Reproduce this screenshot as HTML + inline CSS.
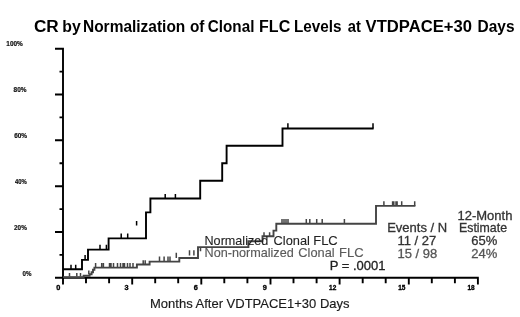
<!DOCTYPE html>
<html><head><meta charset="utf-8">
<style>
html,body{margin:0;padding:0;background:#fff;width:520px;height:317px;overflow:hidden}
svg{display:block;filter:blur(0.35px)}
text{font-family:"Liberation Sans",sans-serif}
</style></head>
<body>
<svg width="520" height="317" viewBox="0 0 520 317">
<rect width="520" height="317" fill="#fff"/>
<g font-size="15.8" font-weight="bold" fill="#000">
<text x="33.9" y="32.3" textLength="24.8" lengthAdjust="spacingAndGlyphs">CR</text>
<text x="62.3" y="32.3" textLength="18.44" lengthAdjust="spacingAndGlyphs">by</text>
<text x="83.0" y="32.3" textLength="102.3" lengthAdjust="spacingAndGlyphs">Normalization</text>
<text x="189.9" y="32.3" textLength="14.5" lengthAdjust="spacingAndGlyphs">of</text>
<text x="207.8" y="32.3" textLength="46.6" lengthAdjust="spacingAndGlyphs">Clonal</text>
<text x="259.1" y="32.3" textLength="31.1" lengthAdjust="spacingAndGlyphs">FLC</text>
<text x="294.0" y="32.3" textLength="47.5" lengthAdjust="spacingAndGlyphs">Levels</text>
<text x="347.8" y="32.3" textLength="13.1" lengthAdjust="spacingAndGlyphs">at</text>
<text x="365.6" y="32.3" textLength="106.3" lengthAdjust="spacingAndGlyphs">VTDPACE+30</text>
<text x="477.6" y="32.3" textLength="36.9" lengthAdjust="spacingAndGlyphs">Days</text>
</g>
<g font-size="7.3" font-weight="bold" fill="#111" stroke="#111" stroke-width="0.2">
<text x="6.3" y="46.4" textLength="16.5" lengthAdjust="spacingAndGlyphs">100%</text>
<text x="13.6" y="92.2" textLength="12.9" lengthAdjust="spacingAndGlyphs">80%</text>
<text x="14.2" y="138.3" textLength="12.9" lengthAdjust="spacingAndGlyphs">60%</text>
<text x="14.9" y="183.9" textLength="11.8" lengthAdjust="spacingAndGlyphs">40%</text>
<text x="14.1" y="230.3" textLength="12.7" lengthAdjust="spacingAndGlyphs">20%</text>
<text x="22.5" y="276.0" textLength="8.9" lengthAdjust="spacingAndGlyphs">0%</text>
</g>
<path d="M63.0 47.8 V284.6 M62 277.8 H478.8 M55 277.8 H63.0 M59.5 254.9 H63.0 M55 232.0 H63.0 M59.5 209.1 H63.0 M55 186.2 H63.0 M59.5 163.2 H63.0 M55 140.3 H63.0 M59.5 117.4 H63.0 M55 94.5 H63.0 M59.5 71.6 H63.0 M55 48.7 H63.0 M86.0 277.8 V283.2 M109.1 277.8 V283.2 M132.2 277.8 V284.6 M155.2 277.8 V283.2 M178.2 277.8 V283.2 M201.3 277.8 V284.6 M224.3 277.8 V283.2 M247.4 277.8 V283.2 M270.5 277.8 V284.6 M293.5 277.8 V283.2 M316.6 277.8 V283.2 M339.6 277.8 V284.6 M362.7 277.8 V283.2 M385.7 277.8 V283.2 M408.8 277.8 V284.6 M431.8 277.8 V283.2 M454.9 277.8 V283.2 M477.9 277.8 V284.6" stroke="#000" stroke-width="1.9" fill="none"/>
<g font-size="7.3" font-weight="bold" fill="#000" stroke="#000" stroke-width="0.35" text-anchor="end">
<text x="60.4" y="290.1">0</text>
<text x="128.6" y="290.1">3</text>
<text x="197.7" y="290.1">6</text>
<text x="266.9" y="290.1">9</text>
<text x="336.3" y="290.1" textLength="7.2" lengthAdjust="spacingAndGlyphs">12</text>
<text x="405.4" y="290.1" textLength="7.2" lengthAdjust="spacingAndGlyphs">15</text>
<text x="474.6" y="290.1" textLength="7.2" lengthAdjust="spacingAndGlyphs">18</text>
</g>
<text x="150" y="308.2" font-size="13" fill="#1a1a1a" stroke="#1a1a1a" stroke-width="0.15">Months After VDTPACE1+30 Days</text>
<path d="M63 277.1 H83.6 V275.8 H89.6 V274.3 H91.6 V272.2 H93 V269.8 H94.4 V267.6 H136.9 V264.5 H149.6 V261.6 H179.3 V258 H198 V247.1 H248.4 V241.3 H262.5 V236.2 H273.5 V230.6 H276.3 V223.8 H376 V205.9 H415.4" stroke="#444" stroke-width="1.9" fill="none"/>
<path d="M69.5 276.5 V273 M76.8 276.5 V273 M80.5 276.5 V273 M88.8 274.3 V270.5 M95.6 267.6 V263.1 M101.7 267.6 V262.9 M103.4 267.6 V262.9 M109.5 267.6 V262.9 M111 267.6 V262.9 M113.5 267.6 V262.9 M117.5 267.6 V262.9 M120.5 267.6 V262.9 M123 267.6 V262.9 M124.5 267.6 V262.9 M127.5 267.6 V262.9 M130 267.6 V262.9 M133 267.6 V262.9 M143.2 264.5 V260.3 M145.2 264.5 V260.3 M159.5 261.6 V256.5 M164.1 261.6 V256.5 M168 261.6 V256.5 M170 261.6 V256.5 M176.3 258 V252.8 M189.5 255.6 V250.2 M193.9 255.6 V250.2 M200.5 251.2 V247 M264 236.2 V232.2 M269.6 236.2 V232.2 M282 223.8 V219 M284 223.8 V219 M286 223.8 V219 M288 223.8 V219 M306.3 223.8 V219 M309.8 223.8 V219 M316.7 223.8 V219 M322.2 223.8 V219 M344.4 223.8 V219 M383.9 205.9 V201.3 M392.6 205.9 V201.3 M393.8 205.9 V201.3 M396 205.9 V201.3 M397.1 205.9 V201.3 M401.7 205.9 V201.3 M414.7 205.9 V201.3" stroke="#444" stroke-width="1.5" fill="none"/>
<path d="M63 269.3 H82 V259.9 H88 V249.6 H108.6 V238.4 H146 V212.4 H150.4 V198.5 H200.2 V180.8 H222.2 V163.3 H226.6 V145.8 H282.5 V128.5 H373.6" stroke="#000" stroke-width="1.9" fill="none"/>
<path d="M71 269.3 V264.8 M75.7 269.3 V264.8 M85.1 259.9 V255 M100 249.6 V244.7 M106.4 249.6 V244.7 M121.2 238.4 V233.5 M127.7 238.4 V233.5 M136.6 225.6 V220.9 M165.2 198.5 V194.1 M175.4 198.5 V194.1 M287.9 128.5 V123.3 M373 128.5 V123.3" stroke="#000" stroke-width="1.5" fill="none"/>
<g font-size="13" stroke-width="0.3">
<g fill="#222" stroke="#222" stroke-width="0.1"><text x="204.5" y="245.2" textLength="63.8" lengthAdjust="spacingAndGlyphs">Normalized</text><text x="273.6" y="245.2" textLength="36.3" lengthAdjust="spacingAndGlyphs">Clonal</text><text x="313.2" y="245.2">FLC</text></g>
<g fill="#5a5a5a" stroke="#5a5a5a" stroke-width="0.15"><text x="204.5" y="256.6" textLength="89.2" lengthAdjust="spacingAndGlyphs">Non-normalized</text><text x="298.3" y="256.6" textLength="36.3" lengthAdjust="spacingAndGlyphs">Clonal</text><text x="339" y="256.6">FLC</text></g>
<text x="329.7" y="269.9" fill="#222" stroke="#222">P = .0001</text>
<text x="457.5" y="219.6" fill="#333" stroke="#333">12-Month</text>
<text x="387.2" y="232.1" fill="#333" stroke="#333">Events / N</text>
<text x="459" y="232.1" fill="#333" stroke="#333" textLength="48" lengthAdjust="spacingAndGlyphs">Estimate</text>
<text x="397.5" y="245.2" fill="#333" stroke="#333">11 / 27</text>
<text x="471.3" y="245.2" fill="#333" stroke="#333">65%</text>
<text x="397.5" y="257.5" fill="#555" stroke="#555">15 / 98</text>
<text x="471.3" y="257.5" fill="#555" stroke="#555">24%</text>
</g>
</svg>
</body></html>
